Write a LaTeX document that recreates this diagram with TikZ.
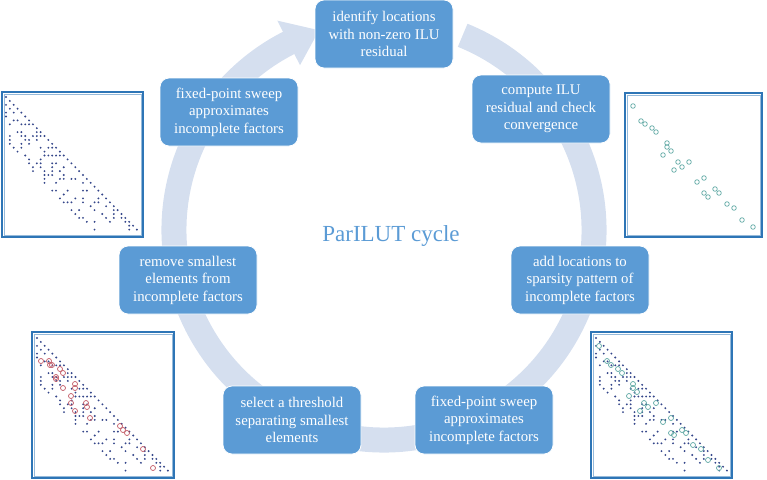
\documentclass[tikz,border=0pt]{standalone}
\usepackage{fontspec}
\setmainfont{Liberation Serif}
\usetikzlibrary{calc}

\definecolor{boxblue}{HTML}{5B9BD5}
\definecolor{ringblue}{HTML}{D5DFEF}
\definecolor{frameblue}{HTML}{2E75B6}
\definecolor{dotblue}{HTML}{34468A}
\definecolor{tealring}{HTML}{5FA8A4}
\definecolor{redring}{HTML}{C25A66}

% banded lower pattern, first entry at (#1,#2)
\newcommand{\sparsepattern}[2]{%
  \pgfmathsetseed{4242}
  \foreach \i in {0,...,34}{
    \foreach \d in {0,...,12}{
      \pgfmathtruncatemacro{\keep}{(\i-\d>=0)&&((\d==0)||(rnd<0.3))}
      \ifnum\keep=1
        \fill[dotblue] ({#1+(\i-\d)*3.85},{#2+\i*3.9}) circle (1.05);
      \fi
    }
  }
}

\begin{document}
\begin{tikzpicture}[x=1pt,y=-1pt,
    stage/.style={rectangle,rounded corners=9pt,fill=boxblue,draw=white,
      line width=0.8pt,text=white,align=center,minimum width=138pt,
      minimum height=68pt,inner sep=2pt,font=\fontsize{14.8}{17.5}\selectfont},
    mtx/.style={draw=frameblue,line width=2.4pt,fill=white},
    mtxin/.style={draw=frameblue!50,line width=0.6pt}]
  \useasboundingbox (0,0) rectangle (767,479);
  \coordinate (c) at (384,230);

  % cycle ring with arrow head
  \draw[ringblue,line width=25pt] (c) ++(-68:210) arc[start angle=-68,end angle=244,radius=210];
  \fill[ringblue] ($(c)+(243:235)$) -- ($(c)+(252:210)$) -- ($(c)+(243:185)$) -- cycle;

  \node[text=boxblue,font=\fontsize{23}{27}\selectfont] (title) at (391,236) {ParILUT cycle};

  \node[stage] (s1) at (384,34) {identify locations\\with non-zero ILU\\residual};
  \node[stage] (s2) at (541,109) {compute ILU\\residual and check\\convergence};
  \node[stage] (s3) at (580,280) {add locations to\\sparsity pattern of\\incomplete factors};
  \node[stage] (s4) at (484,420) {fixed-point sweep\\approximates\\incomplete factors};
  \node[stage] (s5) at (292,420) {select a threshold\\separating smallest\\elements};
  \node[stage] (s6) at (188,280) {remove smallest\\elements from\\incomplete factors};
  \node[stage] (s7) at (229,112) {fixed-point sweep\\approximates\\incomplete factors};

  % matrix pictures
  \draw[mtx] (2,92) rectangle (143,237);
  \draw[mtxin] (3.9,93.9) rectangle (141.1,235.1);
  \sparsepattern{6}{97}

  \draw[mtx] (625,93) rectangle (762,237);
  \draw[mtxin] (626.9,94.9) rectangle (760.1,235.1);
  \foreach \p in {(633,106),(641,121),(645,124),(652,128),(656,132),(667,143),
      (667,147),(671,151),(663,155),(678,162),(674,170),(682,167),(689,162),
      (697,182),(704,178),(704,193),(708,197),(715,189),(719,193),(727,204),
      (734,208),(742,220),(753,227)}
    \draw[tealring,line width=0.7pt] \p circle (2.3);

  \draw[mtx] (32,332) rectangle (174,478);
  \draw[mtxin] (33.9,333.9) rectangle (172.1,476.1);
  \sparsepattern{37}{338}
  \foreach \p in {(41,361),(49,361),(50,365),(52,365),(60,369),(63,373),
      (56,377),(56,379),(75,384),(63,388),(75,388),(71,396),(86,403),(87,407),
      (71,403),(75,411),(90,418),(120,426),(123,430),(127,433),(143,449),(153,468)}
    \draw[redring,line width=0.7pt] \p circle (2.5);

  \draw[mtx] (591,332) rectangle (732,478);
  \draw[mtxin] (592.9,333.9) rectangle (730.1,476.1);
  \sparsepattern{596}{338}
  \foreach \p in {(599,346),(607,361),(611,365),(618,369),(622,373),(633,384),
      (633,388),(637,392),(629,396),(644,403),(648,407),(656,403),(640,411),
      (663,422),(671,418),(671,433),(674,435),(682,430),(686,433),(693,445),
      (701,449),(708,460),(719,468)}
    \draw[tealring,line width=0.7pt] \p circle (2.5);
\end{tikzpicture}
\end{document}
